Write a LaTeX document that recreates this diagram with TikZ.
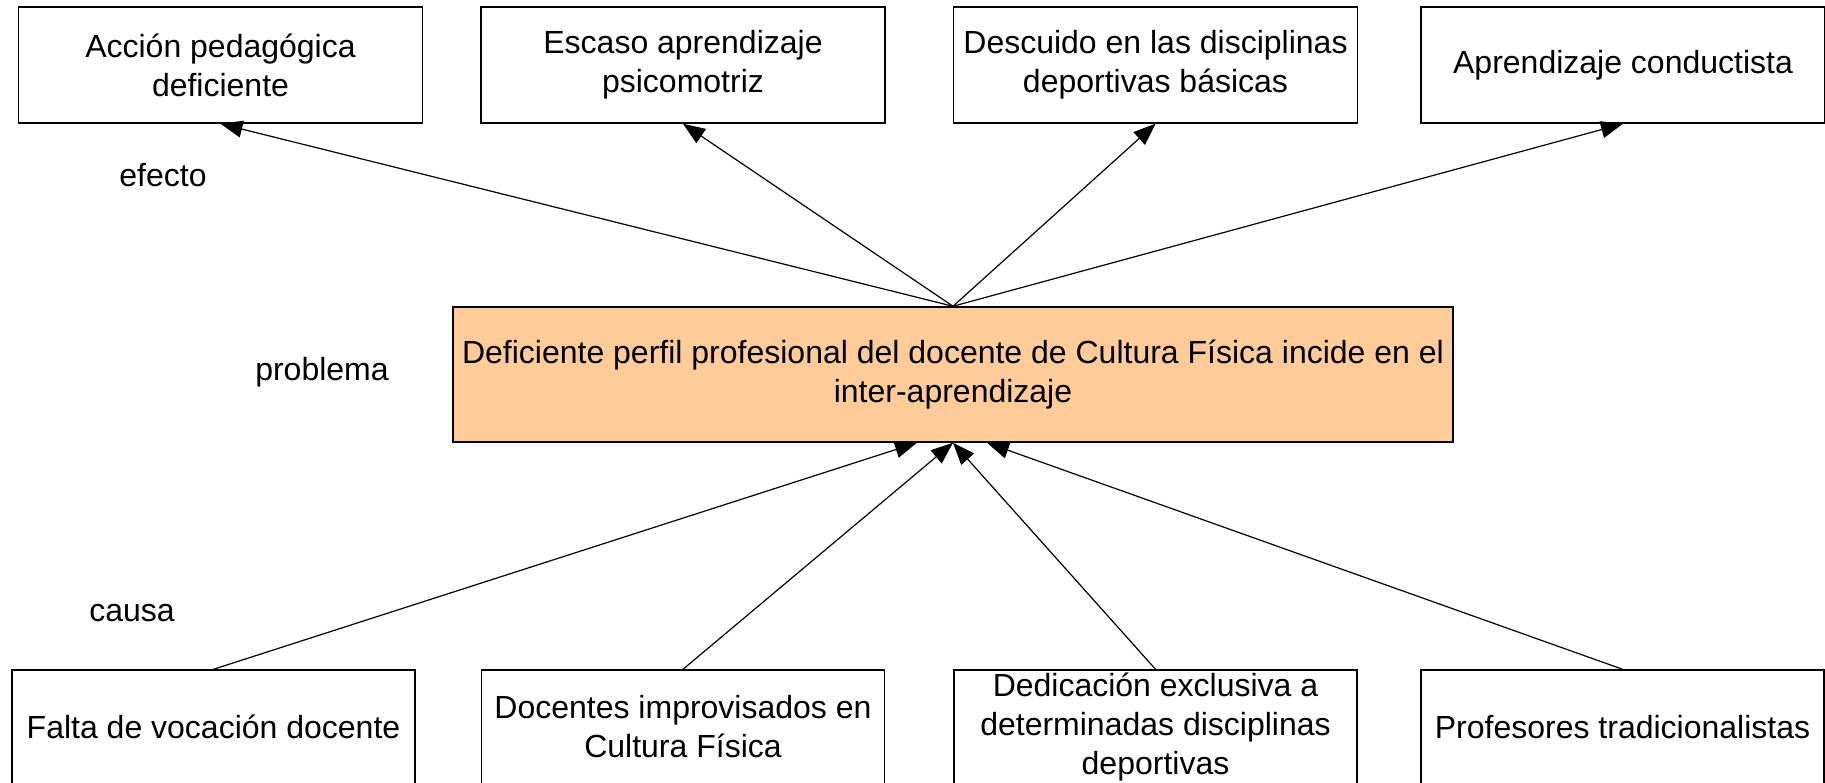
\documentclass[tikz,border=0pt]{standalone}
\usepackage{fontspec}
\setmainfont{Liberation Sans}
\usetikzlibrary{arrows.meta}
\definecolor{peach}{RGB}{255,204,153}
\tikzset{
  box/.style={draw=black, line width=1.5pt, rectangle, inner sep=0pt, align=center,
    font=\fontsize{32}{39}\selectfont},
  topbox/.style={box, minimum width=404pt, minimum height=116pt},
  botbox/.style={box, minimum width=403pt, minimum height=114pt},
  probbox/.style={box, fill=peach, minimum width=1000pt, minimum height=135pt},
  lbl/.style={font=\fontsize{32}{39}\selectfont, inner sep=0pt},
  arr/.style={line width=1.2pt, -{Triangle[length=22pt,width=17pt]}}
}
\begin{document}
\begin{tikzpicture}[x=1pt,y=-1pt]
\useasboundingbox (0,0) rectangle (1825,782);
\fill[white] (0,0) rectangle (1825,782);
% top boxes (effects)
\node[topbox] (t1) at (220.5,65) {Acción pedagógica\\deficiente};
\node[topbox] (t2) at (683,65) {Escaso aprendizaje\\psicomotriz};
\node[topbox] (t3) at (1155.5,65) {Descuido en las disciplinas\\deportivas básicas};
\node[topbox] (t4) at (1623,65) {Aprendizaje conductista};
% problem
\node[probbox] (c) at (953,374.5) {Deficiente perfil profesional del docente de Cultura Física incide en el\\inter-aprendizaje};
% bottom boxes (causes)
\node[botbox] (b1) at (213.5,727) {Falta de vocación docente};
\node[botbox] (b2) at (683,727) {Docentes improvisados en\\Cultura Física};
\node[botbox] (b3) at (1155.5,727) {Dedicación exclusiva a\\determinadas disciplinas\\deportivas};
\node[botbox] (b4) at (1622.5,727) {Profesores tradicionalistas};
% labels
\node[lbl] (le) at (163,175) {efecto};
\node[lbl] (lp) at (322,372) {problema};
\node[lbl] (lc) at (132,613) {causa};
% coordinates on the problem box
\coordinate (cl) at ([xshift=-36pt]c.south);
\coordinate (cr) at ([xshift=34pt]c.south);
% arrows
\draw[arr] (c.north) -- (t1.south);
\draw[arr] (c.north) -- (t2.south);
\draw[arr] (c.north) -- (t3.south);
\draw[arr] (c.north) -- (t4.south);
\draw[arr] (b1.north) -- (cl);
\draw[arr] (b2.north) -- (c.south);
\draw[arr] (b3.north) -- (c.south);
\draw[arr] (b4.north) -- (cr);
\end{tikzpicture}
\end{document}
